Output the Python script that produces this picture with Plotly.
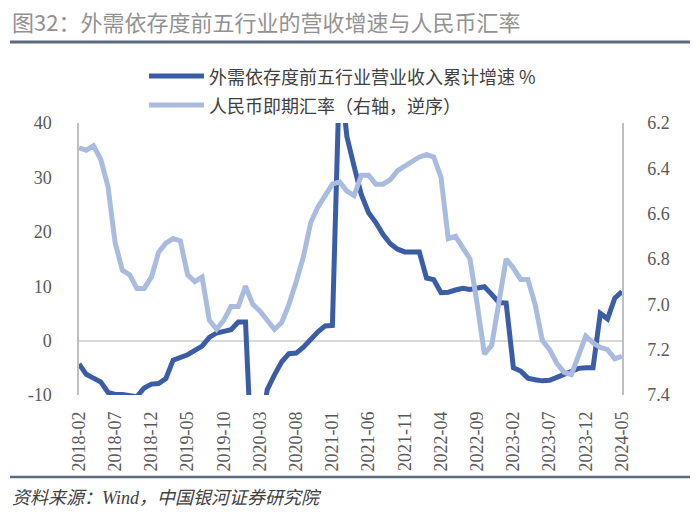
"""Export-dependent top-5 industries: cumulative revenue growth vs. CNY spot rate (inverted)."""

import pandas as pd
import plotly.graph_objects as go

DARK = "#3a5da6"
LIGHT = "#a9bce0"
RULE = "#5d6b82"
TEXT = "#404040"
TICK = "#595959"

MONTHS = [d.strftime("%Y-%m") for d in pd.date_range("2018-02-01", "2024-05-01", freq="MS")]
TICK_MONTHS = MONTHS[::5]
LEFT_TICKS = [-10, 0, 10, 20, 30, 40]
LEFT_TICKTEXT = ["-10", "0", "10", "20", "30", "40"]

# 外需依存度前五行业营业收入累计增速 %
REVENUE_GROWTH = [
    -4.3, -6.2, -6.9, -7.6, -9.5, -9.9, -9.9, -10.1, -10.3, -8.7,
    -8.0, -7.9, -7.0, -3.6, -3.2, -2.6, -1.8, -1.0, 0.6, 1.4,
    1.7, 2.0, 3.4, 3.4, -26.0, -17.0, -9.0, -6.3, -3.9, -2.4,
    -2.3, -1.2, 0.3, 1.6, 2.7, 2.8, 50.0, 37.5, 32.0, 26.8,
    23.5, 21.7, 19.5, 17.8, 16.8, 16.3, 16.3, 16.3, 11.5, 11.2,
    8.8, 8.9, 9.3, 9.6, 9.4, 9.7, 9.9, 8.5, 7.0, 6.9,
    -5.0, -5.6, -6.9, -7.2, -7.4, -7.3, -6.7, -6.3, -5.7, -5.1,
    -5.0, -5.0, 5.0, 4.0, 7.8, 9.0,
]

# 人民币即期汇率（右轴，逆序）
CNY_RATE = [
    6.31, 6.32, 6.30, 6.36, 6.48, 6.73, 6.85, 6.87, 6.93, 6.93,
    6.88, 6.77, 6.73, 6.71, 6.72, 6.87, 6.90, 6.88, 7.07, 7.11,
    7.07, 7.01, 7.01, 6.92, 7.00, 7.03, 7.07, 7.11, 7.08, 7.00,
    6.90, 6.79, 6.64, 6.57, 6.52, 6.47, 6.46, 6.50, 6.52, 6.43,
    6.43, 6.47, 6.47, 6.45, 6.41, 6.39, 6.37, 6.35, 6.34, 6.35,
    6.44, 6.71, 6.70, 6.75, 6.80, 7.00, 7.22, 7.18, 6.99, 6.80,
    6.84, 6.89, 6.89, 7.00, 7.16, 7.20, 7.26, 7.30, 7.31, 7.22,
    7.14, 7.17, 7.19, 7.20, 7.24, 7.23,
]

LEGEND_GROWTH = "外需依存度前五行业营业收入累计增速 %"
LEGEND_RATE = "人民币即期汇率（右轴，逆序）"
TITLE = "图32：外需依存度前五行业的营收增速与人民币汇率"
SOURCE = "<i>资料来源：Wind，中国银河证券研究院</i>"

W, H = 700, 518
L, R, T, B = 79, 78, 123, 123
PW, PH = W - L - R, H - T - B


def fx(x):
    """pixel x -> paper x"""
    return (x - L) / PW


def fy(y):
    """pixel y -> paper y"""
    return (H - B - y) / PH


CJK = "Noto Sans CJK SC"
SERIF = "Liberation Serif, DejaVu Serif, serif"

fig = go.Figure()
fig.add_trace(go.Scatter(
    x=MONTHS, y=REVENUE_GROWTH, mode="lines", name=LEGEND_GROWTH,
    line=dict(color=DARK, width=5), yaxis="y",
))
fig.add_trace(go.Scatter(
    x=MONTHS, y=CNY_RATE, mode="lines", name=LEGEND_RATE,
    line=dict(color=LIGHT, width=5), yaxis="y2",
))

shapes = [
    dict(type="line", xref="paper", yref="paper", x0=fx(10), x1=fx(690), y0=fy(42), y1=fy(42),
         line=dict(color=RULE, width=3), layer="above"),
    dict(type="line", xref="paper", yref="paper", x0=fx(10), x1=fx(690), y0=fy(477), y1=fy(477),
         line=dict(color=RULE, width=2.5), layer="above"),
    dict(type="line", xref="paper", yref="paper", x0=fx(149), x1=fx(204), y0=fy(76), y1=fy(76),
         line=dict(color=DARK, width=5)),
    dict(type="line", xref="paper", yref="paper", x0=fx(149), x1=fx(204), y0=fy(105), y1=fy(105),
         line=dict(color=LIGHT, width=5)),
]

annotations = [
    dict(text=TITLE, x=fx(10), y=fy(21), font=dict(family=CJK, size=22, color="#929292")),
    dict(text=LEGEND_GROWTH, x=fx(207), y=fy(76), font=dict(family=CJK, size=18, color=TEXT)),
    dict(text=LEGEND_RATE, x=fx(207), y=fy(105), font=dict(family=CJK, size=18, color=TEXT)),
    dict(text=SOURCE, x=fx(10), y=fy(498), font=dict(family=f"{SERIF}, {CJK}", size=18, color=TEXT)),
]
for a in annotations:
    a.update(xref="paper", yref="paper", xanchor="left", yanchor="middle", showarrow=False)

tickfont = dict(family=SERIF, size=18, color=TICK)

fig.update_layout(
    width=W, height=H,
    margin=dict(l=L, r=R, t=T, b=B),
    paper_bgcolor="white", plot_bgcolor="white",
    showlegend=False,
    shapes=shapes,
    annotations=annotations,
    xaxis=dict(
        type="category", range=[0, len(MONTHS) - 1],
        tickmode="array", tickvals=TICK_MONTHS, ticktext=TICK_MONTHS,
        tickangle=-90, tickfont=tickfont, ticks="", ticklabelstandoff=12,
        showline=False, showgrid=False, zeroline=False,
    ),
    yaxis=dict(
        range=[-10, 40], tickmode="array", tickvals=LEFT_TICKS, ticktext=LEFT_TICKTEXT,
        tickfont=tickfont, ticks="", ticklabelstandoff=22,
        showline=True, linecolor="#bfbfbf", linewidth=1.5, showgrid=False,
        zeroline=True, zerolinecolor="#d9d9d9", zerolinewidth=2,
    ),
    yaxis2=dict(
        overlaying="y", side="right", range=[7.4, 6.2], dtick=0.2, tickformat=".1f",
        tickfont=tickfont, ticks="", ticklabelstandoff=20,
        showline=True, linecolor="#bfbfbf", linewidth=1.5, showgrid=False, zeroline=False,
    ),
)

# the page's default body margin would push the figure 8px down and right
fig.write_html(
    "out.html",
    config={"displayModeBar": False},
    post_script="document.body.style.margin = '0';",
)
